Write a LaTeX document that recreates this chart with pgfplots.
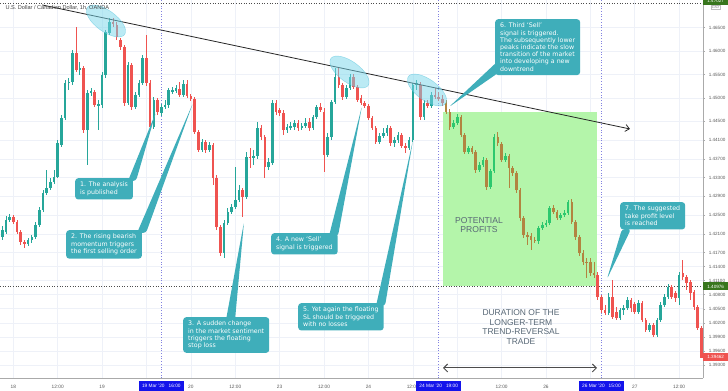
\documentclass[border=0pt]{standalone}
\usepackage{fontspec}
\setmainfont{Liberation Sans}
\newfontfamily\callfont{DejaVu Sans}
\usepackage{pgfplots}
\usepackage{pgfplotstable}
\pgfplotsset{compat=1.18}
\usetikzlibrary{arrows.meta}
\definecolor{cgreen}{RGB}{38,166,154}
\definecolor{cred}{RGB}{239,83,80}
\definecolor{bgreen}{RGB}{45,200,110}
\definecolor{bbrown}{RGB}{178,132,64}
\definecolor{zone}{RGB}{180,245,170}
\definecolor{callout}{RGB}{63,174,186}
\definecolor{ell}{RGB}{120,215,235}
\definecolor{ellb}{RGB}{80,195,220}
\definecolor{gridc}{RGB}{238,241,248}
\definecolor{vline}{RGB}{130,130,225}
\definecolor{axisgray}{RGB}{170,170,170}
\definecolor{ticktext}{RGB}{90,90,90}
\definecolor{boxblue}{RGB}{20,20,235}
\definecolor{pricegreen}{RGB}{56,118,29}
\definecolor{slate}{RGB}{88,104,118}

\pgfplotstableread{
t o h l c
-3 1.4203 1.4227 1.4197 1.4218
-2 1.4214 1.4248 1.4210 1.4240
-1 1.4240 1.4252 1.4235 1.4246
0 1.4246 1.4250 1.4231 1.4235
1 1.4235 1.4240 1.4210 1.4214
2 1.4214 1.4218 1.4186 1.4193
3 1.4193 1.4197 1.4180 1.4188
4 1.4188 1.4201 1.4184 1.4197
5 1.4197 1.4208 1.4190 1.4203
6 1.4203 1.4235 1.4199 1.4229
7 1.4229 1.4267 1.4225 1.4261
8 1.4261 1.4304 1.4257 1.4297
9 1.4297 1.4346 1.4293 1.4308
10 1.4308 1.4329 1.4304 1.4321
11 1.4321 1.4346 1.4316 1.4331
12 1.4331 1.4410 1.4329 1.4404
13 1.4400 1.4464 1.4395 1.4457
14 1.4457 1.4538 1.4453 1.4532
15 1.4532 1.4543 1.4517 1.4534
16 1.4534 1.4602 1.4528 1.4596
17 1.4596 1.4651 1.4555 1.4560
18 1.4560 1.4577 1.4549 1.4564
19 1.4564 1.4568 1.4425 1.4432
20 1.4432 1.4517 1.4357 1.4511
21 1.4511 1.4521 1.4504 1.4515
22 1.4513 1.4517 1.4481 1.4485
23 1.4485 1.4496 1.4432 1.4487
24 1.4485 1.4555 1.4479 1.4549
25 1.4549 1.4645 1.4543 1.4641
26 1.4639 1.4671 1.4634 1.4662
27 1.4662 1.4671 1.4651 1.4658
28 1.4656 1.4662 1.4624 1.4630
29 1.4624 1.4628 1.4602 1.4609
30 1.4609 1.4613 1.4483 1.4489
31 1.4489 1.4577 1.4485 1.4570
32 1.4570 1.4575 1.4474 1.4481
33 1.4481 1.4513 1.4476 1.4506
34 1.4506 1.4538 1.4502 1.4532
35 1.4532 1.4592 1.4528 1.4585
36 1.4585 1.4634 1.4526 1.4532
37 1.4532 1.4538 1.4432 1.4438
38 1.4438 1.4502 1.4434 1.4496
39 1.4496 1.4500 1.4464 1.4470
40 1.4468 1.4487 1.4462 1.4481
41 1.4481 1.4496 1.4476 1.4485
42 1.4485 1.4521 1.4479 1.4517
43 1.4513 1.4523 1.4509 1.4517
44 1.4515 1.4528 1.4511 1.4521
45 1.4519 1.4534 1.4502 1.4506
46 1.4506 1.4538 1.4502 1.4530
47 1.4530 1.4538 1.4500 1.4504
48 1.4504 1.4509 1.4494 1.4498
49 1.4498 1.4502 1.4423 1.4427
50 1.4427 1.4432 1.4385 1.4389
51 1.4389 1.4412 1.4385 1.4406
52 1.4406 1.4410 1.4383 1.4389
53 1.4389 1.4406 1.4385 1.4400
54 1.4400 1.4404 1.4314 1.4329
55 1.4329 1.4336 1.4218 1.4225
56 1.4225 1.4229 1.4163 1.4169
57 1.4169 1.4240 1.4158 1.4233
58 1.4233 1.4265 1.4229 1.4257
59 1.4257 1.4274 1.4252 1.4267
60 1.4267 1.4353 1.4263 1.4282
61 1.4282 1.4314 1.4278 1.4304
62 1.4304 1.4308 1.4246 1.4289
63 1.4289 1.4385 1.4284 1.4374
64 1.4374 1.4393 1.4351 1.4372
65 1.4372 1.4389 1.4357 1.4376
66 1.4376 1.4449 1.4370 1.4436
67 1.4436 1.4442 1.4410 1.4417
68 1.4417 1.4421 1.4329 1.4353
69 1.4353 1.4372 1.4346 1.4363
70 1.4361 1.4496 1.4357 1.4489
71 1.4489 1.4496 1.4464 1.4470
72 1.4474 1.4479 1.4462 1.4468
73 1.4468 1.4474 1.4421 1.4432
74 1.4432 1.4444 1.4425 1.4438
75 1.4438 1.4449 1.4432 1.4440
76 1.4438 1.4453 1.4432 1.4447
77 1.4447 1.4453 1.4429 1.4436
78 1.4436 1.4447 1.4432 1.4440
79 1.4440 1.4457 1.4436 1.4447
80 1.4449 1.4457 1.4429 1.4436
81 1.4436 1.4464 1.4432 1.4459
82 1.4459 1.4485 1.4455 1.4481
83 1.4481 1.4489 1.4470 1.4474
84 1.4470 1.4479 1.4342 1.4378
85 1.4378 1.4425 1.4374 1.4417
86 1.4417 1.4496 1.4410 1.4491
87 1.4491 1.4564 1.4487 1.4545
88 1.4545 1.4564 1.4521 1.4528
89 1.4528 1.4532 1.4496 1.4502
90 1.4502 1.4528 1.4498 1.4521
91 1.4521 1.4551 1.4517 1.4545
92 1.4545 1.4551 1.4519 1.4523
93 1.4523 1.4528 1.4491 1.4496
94 1.4500 1.4506 1.4485 1.4489
95 1.4489 1.4494 1.4479 1.4483
96 1.4483 1.4487 1.4453 1.4457
97 1.4457 1.4462 1.4432 1.4436
98 1.4436 1.4440 1.4402 1.4406
99 1.4406 1.4425 1.4402 1.4419
100 1.4419 1.4436 1.4415 1.4425
101 1.4425 1.4442 1.4419 1.4436
102 1.4436 1.4440 1.4397 1.4404
103 1.4404 1.4417 1.4395 1.4410
104 1.4410 1.4427 1.4404 1.4421
105 1.4421 1.4425 1.4393 1.4397
106 1.4397 1.4404 1.4383 1.4393
107 1.4393 1.4417 1.4389 1.4410
108 1.4410 1.4532 1.4406 1.4528
109 1.4528 1.4538 1.4517 1.4532
110 1.4528 1.4534 1.4453 1.4459
111 1.4459 1.4496 1.4453 1.4489
112 1.4489 1.4496 1.4479 1.4483
113 1.4483 1.4513 1.4479 1.4506
114 1.4506 1.4521 1.4498 1.4502
115 1.4502 1.4513 1.4494 1.4498
116 1.4498 1.4506 1.4483 1.4489
117 1.4489 1.4496 1.4466 1.4470
118 1.4470 1.4476 1.4432 1.4438
119 1.4438 1.4453 1.4434 1.4447
120 1.4447 1.4466 1.4442 1.4459
121 1.4459 1.4464 1.4417 1.4421
122 1.4421 1.4425 1.4380 1.4385
123 1.4385 1.4397 1.4380 1.4393
124 1.4393 1.4397 1.4380 1.4385
125 1.4385 1.4389 1.4340 1.4346
126 1.4346 1.4363 1.4342 1.4357
127 1.4357 1.4374 1.4353 1.4368
128 1.4368 1.4372 1.4304 1.4310
129 1.4310 1.4348 1.4306 1.4344
130 1.4344 1.4423 1.4340 1.4417
131 1.4417 1.4427 1.4397 1.4404
132 1.4402 1.4406 1.4363 1.4368
133 1.4368 1.4383 1.4363 1.4376
134 1.4376 1.4380 1.4308 1.4351
135 1.4351 1.4355 1.4334 1.4340
136 1.4340 1.4344 1.4297 1.4304
137 1.4304 1.4308 1.4237 1.4244
138 1.4244 1.4248 1.4201 1.4208
139 1.4208 1.4214 1.4186 1.4203
140 1.4205 1.4212 1.4176 1.4197
141 1.4197 1.4203 1.4190 1.4195
142 1.4195 1.4227 1.4188 1.4222
143 1.4222 1.4235 1.4218 1.4229
144 1.4229 1.4240 1.4225 1.4233
145 1.4233 1.4269 1.4229 1.4265
146 1.4265 1.4271 1.4252 1.4257
147 1.4257 1.4261 1.4240 1.4244
148 1.4244 1.4254 1.4240 1.4250
149 1.4250 1.4261 1.4246 1.4254
150 1.4254 1.4282 1.4250 1.4278
151 1.4278 1.4284 1.4231 1.4235
152 1.4235 1.4240 1.4197 1.4203
153 1.4203 1.4208 1.4163 1.4169
154 1.4169 1.4176 1.4144 1.4150
155 1.4150 1.4158 1.4116 1.4148
156 1.4150 1.4158 1.4120 1.4126
157 1.4126 1.4150 1.4116 1.4122
158 1.4122 1.4129 1.4069 1.4075
159 1.4075 1.4079 1.4041 1.4047
160 1.4047 1.4058 1.4037 1.4041
161 1.4041 1.4084 1.4037 1.4075
162 1.4075 1.4111 1.4028 1.4033
163 1.4043 1.4054 1.4026 1.4030
164 1.4030 1.4052 1.4026 1.4047
165 1.4047 1.4058 1.4037 1.4052
166 1.4052 1.4075 1.4047 1.4069
167 1.4069 1.4073 1.4043 1.4052
168 1.4060 1.4065 1.4039 1.4043
169 1.4043 1.4069 1.4039 1.4062
170 1.4062 1.4067 1.4022 1.4026
171 1.4026 1.4030 1.4000 1.4005
172 1.4005 1.4020 1.4000 1.4016
173 1.4016 1.4020 1.3990 1.3994
174 1.3994 1.4030 1.3990 1.4026
175 1.4026 1.4065 1.4022 1.4058
176 1.4058 1.4082 1.4054 1.4075
177 1.4075 1.4103 1.4071 1.4097
178 1.4097 1.4101 1.4071 1.4075
179 1.4084 1.4088 1.4065 1.4073
180 1.4073 1.4129 1.4058 1.4122
181 1.4126 1.4154 1.4111 1.4118
182 1.4118 1.4122 1.4090 1.4105
183 1.4107 1.4111 1.4069 1.4084
184 1.4086 1.4090 1.4047 1.4054
185 1.4054 1.4058 1.4005 1.4009
186 1.4009 1.4013 1.3944 1.3946
}\candles

\pgfplotsset{
  wick/.style 2 args={draw=none, mark=none, forget plot,
    restrict expr to domain={#2}{0.5:100000},
    error bars/.cd, y dir=both, y explicit, error mark=none,
    error bar style={draw=#1, line width=0.8bp}},
  body/.style 2 args={draw=none, mark=none, forget plot,
    restrict expr to domain={#2}{0.5:100000},
    error bars/.cd, y dir=both, y explicit, error mark=none,
    error bar style={draw=#1, line width=2.6bp}},
}
\newcommand{\inside}{((\thisrow{t}>116.5)*(\thisrow{t}<157.5))}

\begin{document}
\begin{tikzpicture}
\fill[white] (0,0) rectangle (728bp,391bp);
\useasboundingbox (0,0) rectangle (728bp,391bp);
\begin{axis}[
  at={(0,13bp)}, anchor=south west,
  scale only axis, width=703bp, height=378bp,
  xmin=-3.6, xmax=186.45, ymin=1.39022, ymax=1.47091,
  axis x line*=bottom, axis y line*=right,
  axis line style={-, draw=axisgray, line width=0.6bp},
  xtick={0,12,24,48,60,72,84,96,108,132,168,180},
  xticklabels={18,12:00,19,20,12:00,23,12:00,24,12:00,12:00,27,12:00},
  extra x ticks={36,120,144,156},
  extra x tick labels={,,26,},
  extra x tick style={grid=major},
  xtick style={draw=none},
  xticklabel style={font=\fontsize{4.8}{5}\selectfont, text=ticktext, yshift=-1.5bp},
  ytick={1.465,1.460,1.455,1.450,1.445,1.441,1.437,1.433,1.429,1.425,1.421,1.417,1.414,1.411,1.408,1.405,1.402,1.399,1.396,1.393},
  yticklabels={1.46500,1.46000,1.45500,1.45000,1.44500,1.44100,1.43700,1.43300,1.42900,1.42500,1.42100,1.41700,1.41400,1.41100,1.40800,1.40500,1.40200,1.39900,1.39600,1.39300},
  ytick style={draw=axisgray, line width=0.5bp},
  tick align=outside, major tick length=2bp,
  yticklabel style={font=\fontsize{4.6}{5}\selectfont, text=ticktext, xshift=0.3bp},
  grid=major, major grid style={draw=gridc, line width=0.6bp},
]
% profit zone
\fill[zone] (axis cs:116.2,1.40976) rectangle (axis cs:157.8,1.4470);
% vertical markers
\draw[vline, dotted, line width=0.7bp] (axis cs:40,1.39022) -- (axis cs:40,1.47091);
\draw[vline, dotted, line width=0.7bp] (axis cs:115,1.39022) -- (axis cs:115,1.47091);
\draw[vline, dotted, line width=0.7bp] (axis cs:159,1.39022) -- (axis cs:159,1.47091);
% price lines
\draw[black!70, dotted, line width=0.6bp] (axis cs:-3.6,1.40976) -- (axis cs:186.45,1.40976);
\draw[black!70, dotted, line width=0.6bp] (axis cs:-3.6,1.47027) -- (axis cs:186.45,1.47027);
% wicks
\addplot[wick={cgreen}{((\thisrow{c}-\thisrow{o})*10000+1)*(1-\inside)}]
  table[x=t, y expr={(\thisrow{h}+\thisrow{l})/2}, y error expr={(\thisrow{h}-\thisrow{l})/2}] {\candles};
\addplot[wick={cred}{((\thisrow{o}-\thisrow{c})*10000)*(1-\inside)}]
  table[x=t, y expr={(\thisrow{h}+\thisrow{l})/2}, y error expr={(\thisrow{h}-\thisrow{l})/2}] {\candles};
\addplot[wick={bgreen}{((\thisrow{c}-\thisrow{o})*10000+1)*\inside}]
  table[x=t, y expr={(\thisrow{h}+\thisrow{l})/2}, y error expr={(\thisrow{h}-\thisrow{l})/2}] {\candles};
\addplot[wick={bbrown}{((\thisrow{o}-\thisrow{c})*10000)*\inside}]
  table[x=t, y expr={(\thisrow{h}+\thisrow{l})/2}, y error expr={(\thisrow{h}-\thisrow{l})/2}] {\candles};
% bodies
\addplot[body={cgreen}{((\thisrow{c}-\thisrow{o})*10000+1)*(1-\inside)}]
  table[x=t, y expr={(\thisrow{o}+\thisrow{c})/2}, y error expr={max(abs(\thisrow{o}-\thisrow{c})/2,0.00005)}] {\candles};
\addplot[body={cred}{((\thisrow{o}-\thisrow{c})*10000)*(1-\inside)}]
  table[x=t, y expr={(\thisrow{o}+\thisrow{c})/2}, y error expr={max(abs(\thisrow{o}-\thisrow{c})/2,0.00005)}] {\candles};
\addplot[body={bgreen}{((\thisrow{c}-\thisrow{o})*10000+1)*\inside}]
  table[x=t, y expr={(\thisrow{o}+\thisrow{c})/2}, y error expr={max(abs(\thisrow{o}-\thisrow{c})/2,0.00005)}] {\candles};
\addplot[body={bbrown}{((\thisrow{o}-\thisrow{c})*10000)*\inside}]
  table[x=t, y expr={(\thisrow{o}+\thisrow{c})/2}, y error expr={max(abs(\thisrow{o}-\thisrow{c})/2,0.00005)}] {\candles};
% trend line
\addplot[draw=black!85, line width=0.8bp, -{Straight Barb[length=4bp,width=7bp]}] coordinates {(7.76,1.46986) (166.7,1.44338)};
\end{axis}

\begin{scope}[yshift=391bp, x=1bp, y=-1bp]
  % ellipses
  \foreach \cx/\cy in {106/21, 349.5/72, 427/90} {
    \begin{scope}[shift={(\cx,\cy)}, rotate=-36]
      \fill[ell, fill opacity=0.5] (0,0) ellipse (23 and 10.5);
      \draw[ellb, line width=0.4bp, opacity=0.6] (0,0) ellipse (23 and 10.5);
    \end{scope}
  }
  \tikzset{callout/.style={fill=callout, text=white, font=\callfont\fontsize{6.3}{7.2}\selectfont, align=left, anchor=north west, inner xsep=5bp, inner ysep=4bp, rounded corners=3bp}}
  % pointers
  \fill[callout] (128,181) -- (156,112) -- (136,181) -- cycle;
  \fill[callout] (137,233) -- (193,103) -- (146,233) -- cycle;
  \fill[callout] (226,320) -- (244,222) -- (235,320) -- cycle;
  \fill[callout] (329,236) -- (362,106) -- (338,236) -- cycle;
  \fill[callout] (376,306) -- (413,140) -- (385,306) -- cycle;
  \fill[callout] (498,61) -- (449,107) -- (498,73) -- cycle;
  \fill[callout] (622,229) -- (607,279) -- (631,229) -- cycle;
  % boxes
  \node[callout] at (75,178) {1. The analysis\\is published};
  \node[callout] at (66,230) {2. The rising bearish\\momentum triggers\\the first selling order};
  \node[callout] at (183,317) {3. A sudden change\\in the market sentiment\\triggers the floating\\stop loss};
  \node[callout] at (271,233) {4. A new ‘Sell’\\signal is triggered};
  \node[callout] at (298,303) {5. Yet again the floating\\SL should be triggered\\with no losses};
  \node[callout] at (495,19) {6. Third ‘Sell’\\signal is triggered.\\The subsequently lower\\peaks indicate the slow\\transition of the market\\into developing a new\\downtrend};
  \node[callout] at (620,202) {7. The suggested\\take profit level\\is reached};
  % zone texts
  \node[font=\fontsize{8.6}{9.5}\selectfont, text=slate, align=center] at (479,225) {POTENTIAL\\PROFITS};
  \node[font=\fontsize{8.5}{9.5}\selectfont, text=slate, align=center] at (521,327) {DURATION OF THE\\LONGER-TERM\\TREND-REVERSAL\\TRADE};
  \draw[black!70, line width=1bp, {Straight Barb[length=4bp,width=8bp]}-{Straight Barb[length=4bp,width=8bp]}] (443,368) -- (597,368);
  % date boxes
  \tikzset{datebox/.style={fill=boxblue, text=white, font=\fontsize{4.8}{5}\selectfont, minimum width=45bp, minimum height=10bp, inner sep=0pt}}
  \node[datebox] at (161.3,386) {19 Mar ’20\hspace{4bp}16:00};
  \node[datebox] at (438.7,386) {24 Mar ’20\hspace{4bp}19:00};
  \node[datebox] at (601.4,386) {26 Mar ’20\hspace{4bp}15:00};
  % price labels
  \tikzset{pricebox/.style={text=white, font=\fontsize{4.6}{5}\selectfont, minimum width=25bp, minimum height=8bp, inner sep=0pt, anchor=west}}
  \node[pricebox, fill=pricegreen] at (703,286.5) {1.40976};
  \node[pricebox, fill=cred] at (703,357.4) {1.39462};
  \node[pricebox, fill=pricegreen] at (703,1) {1.47027};
  \node[draw=gray!50, fill=white, text=gray, font=\fontsize{3.4}{4}\selectfont, inner sep=0.7bp] at (715.5,7.5) {CAD};
  % title
  \node[anchor=west, font=\fontsize{5.6}{6}\selectfont, text=black!75] at (2,7.5) {U.S. Dollar / Canadian Dollar, 1h, OANDA};
\end{scope}
\end{tikzpicture}
\end{document}
